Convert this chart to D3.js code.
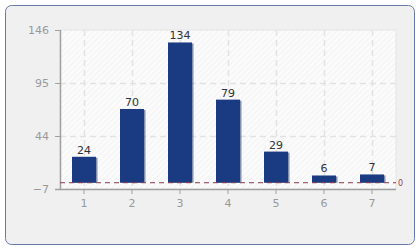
<!DOCTYPE html>
<html>
<head>
<meta charset="utf-8">
<script src="https://cdn.jsdelivr.net/npm/d3@7"></script>
<style>
  body { margin: 0; background: #fff; }
  text { font-family: "DejaVu Sans", Verdana, sans-serif; }
</style>
</head>
<body>
<script>
var categories = ["1", "2", "3", "4", "5", "6", "7"]
var values = [24, 70, 134, 79, 29, 6, 7]
var yTicks = [-7, 44, 95, 146]

var width = 420, height = 250
var margin = {top: 30, right: 24, bottom: 61, left: 60}
var w = width - margin.left - margin.right,
    h = height - margin.top - margin.bottom

var svg = d3.select("body").append("svg")
    .attr("width", width)
    .attr("height", height)

var defs = svg.append("defs")
var pat = defs.append("pattern")
    .attr("id", "hatch")
    .attr("width", 4).attr("height", 4)
    .attr("patternUnits", "userSpaceOnUse")
    .attr("patternTransform", "rotate(45)")
pat.append("rect").attr("width", 4).attr("height", 4).attr("fill", "#fbfbfb")
pat.append("line").attr("x1", 0).attr("y1", 0).attr("x2", 0).attr("y2", 4)
    .attr("stroke", "#f1f1f1").attr("stroke-width", 1.5)

// outer frame
svg.append("rect")
    .attr("x", 5.5).attr("y", 5.5)
    .attr("width", 409).attr("height", 239)
    .attr("rx", 6)
    .attr("fill", "#f0f0f0")
    .attr("stroke", "#6a7aa8")

var g = svg.append("g")
    .attr("transform", "translate(" + margin.left + "," + margin.top + ")")

var x = d3.scaleBand().domain(categories).range([0, w])
    .paddingInner(0.5).paddingOuter(0.25)
var y = d3.scaleLinear().domain([-7, 146]).range([h, 0])

g.append("rect")
    .attr("width", w).attr("height", h)
    .attr("fill", "url(#hatch)")
    .attr("stroke", "#e4e4e4")

// grid
g.selectAll(".hgrid")
  .data(yTicks.filter(function(d) { return d != -7 && d != 146 }))
  .enter().append("line")
    .attr("x1", 0).attr("x2", w)
    .attr("y1", function(d) { return Math.round(y(d)) + 0.5 })
    .attr("y2", function(d) { return Math.round(y(d)) + 0.5 })
    .attr("stroke", "#e2e2e2")
    .attr("stroke-dasharray", "6,4")
    .attr("stroke-width", 1.5)

g.selectAll(".vgrid")
  .data(categories)
  .enter().append("line")
    .attr("x1", function(d) { return Math.round(x(d) + x.bandwidth() / 2) + 0.5 })
    .attr("x2", function(d) { return Math.round(x(d) + x.bandwidth() / 2) + 0.5 })
    .attr("y1", 0).attr("y2", h)
    .attr("stroke", "#e2e2e2")
    .attr("stroke-dasharray", "6,4")
    .attr("stroke-width", 1.5)

// axes
var yAxis = g.append("g")
    .call(d3.axisLeft(y).tickValues(yTicks).tickSize(5).tickPadding(6))
var xAxis = g.append("g")
    .attr("transform", "translate(0," + h + ")")
    .call(d3.axisBottom(x).tickSize(5).tickPadding(5))
yAxis.select(".domain").attr("d", "M0.5,0V" + h).attr("stroke", "#a0a0a0").attr("stroke-width", 1.5)
xAxis.select(".domain").attr("d", "M-5,0.5H" + w).attr("stroke", "#a0a0a0").attr("stroke-width", 1.5)
g.selectAll(".tick line").attr("stroke", "#a0a0a0")
g.selectAll(".tick text").attr("fill", "#999").style("font-size", "11px")

// bars
var bars = g.selectAll(".bar").data(values).enter().append("g")
bars.append("rect")
    .attr("x", function(d, i) { return x(categories[i]) + 1.5 })
    .attr("y", function(d) { return y(d) + 1 })
    .attr("width", x.bandwidth())
    .attr("height", function(d) { return y(0) - y(d) })
    .attr("fill", "#0e2a66")
    .attr("opacity", 0.5)
bars.append("rect")
    .attr("x", function(d, i) { return x(categories[i]) })
    .attr("y", function(d) { return y(d) })
    .attr("width", x.bandwidth())
    .attr("height", function(d) { return y(0) - y(d) + 1 })
    .attr("fill", "#1a3a82")
bars.append("text")
    .attr("x", function(d, i) { return x(categories[i]) + x.bandwidth() / 2 })
    .attr("y", function(d) { return y(d) - 3 })
    .attr("text-anchor", "middle")
    .attr("fill", "#333")
    .style("font-size", "11px")
    .text(function(d) { return d })

// zero line
g.append("line")
    .attr("x1", 0).attr("x2", w)
    .attr("y1", y(0) + 1).attr("y2", y(0) + 1)
    .attr("stroke", "#8a3a4c")
    .attr("stroke-dasharray", "5,4")
g.append("text")
    .attr("x", w + 2).attr("y", y(0) + 1)
    .attr("dy", "0.35em")
    .attr("fill", "#a04050")
    .style("font-size", "8px")
    .text("0")
</script>
</body>
</html>
